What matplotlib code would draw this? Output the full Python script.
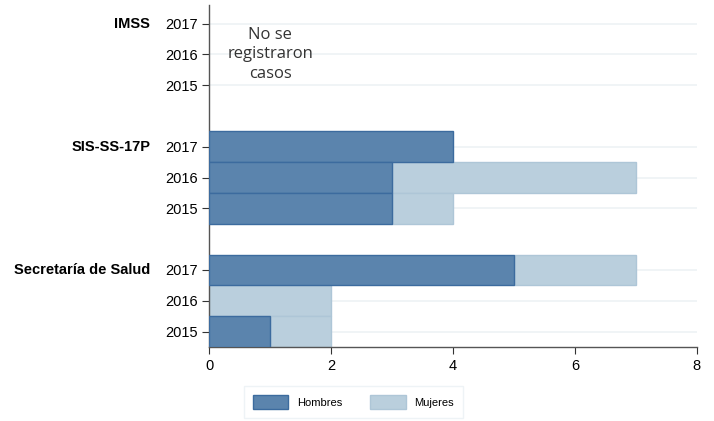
import numpy as np
import matplotlib.pyplot as plt
import matplotlib.transforms as mtransforms
from matplotlib.patches import Patch

plt.rcParams["font.family"] = ["Liberation Sans", "DejaVu Sans"]

instituciones = ["IMSS", "SIS-SS-17P", "Secretaría de Salud"]
anios = ["2017", "2016", "2015"]
hombres = [[0, 0, 0], [4, 3, 3], [5, 0, 1]]
mujeres = [[0, 0, 0], [0, 4, 1], [2, 2, 1]]

C_H, E_H = "#5b84ad", "#3c6b9e"
C_M, E_M = "#bacfdd", "#aec6d7"

fig = plt.figure(figsize=(7.14, 4.21), dpi=100)
ax = fig.add_axes([0.293, 0.176, 0.683, 0.812])
trans = mtransforms.blended_transform_factory(ax.transAxes, ax.transData)

pos, labs = [], []
for g in range(len(instituciones)):
    for k in range(len(anios)):
        y = g * 4 + k
        pos.append(y)
        labs.append(anios[k])
        h, m = hombres[g][k], mujeres[g][k]
        if h > 0:
            ax.barh(y, h, height=1.0, color=C_H, edgecolor=E_H, linewidth=1.0, zorder=3)
        if m > 0:
            ax.barh(y, m, left=h, height=1.0, color=C_M, edgecolor=E_M, linewidth=1.0, zorder=2)
    ax.text(-0.121, g * 4, instituciones[g], transform=trans,
            ha="right", va="center", fontsize=10.5, fontweight="bold")

ax.set_yticks(pos)
ax.set_yticklabels(labs, fontsize=10.5)
ax.set_ylim(10.5, -0.6)
ax.set_xlim(0, 8)
ax.set_xticks([0, 2, 4, 6, 8])
ax.tick_params(axis="x", labelsize=10.5, length=5, color="#333333")
ax.tick_params(axis="y", length=5, color="#333333")
for y in pos:
    ax.axhline(y, color="#edf2f5", linewidth=1.2, zorder=1)
for s in ["top", "right"]:
    ax.spines[s].set_visible(False)
for s in ["left", "bottom"]:
    ax.spines[s].set_color("#555555")
    ax.spines[s].set_linewidth(1.0)

ax.text(1.0, 1.0, "No se\nregistraron\ncasos", ha="center", va="center",
        fontsize=12, family=["Open Sans", "DejaVu Sans"], color="#333333", linespacing=1.3)

handles = [Patch(facecolor=C_H, edgecolor=E_H, label="Hombres"),
           Patch(facecolor=C_M, edgecolor=E_M, label="Mujeres")]
leg = fig.legend(handles=handles, loc="center", bbox_to_anchor=(0.495, 0.045), ncol=2,
                 fontsize=8, frameon=True, fancybox=False, handlelength=3.2, handleheight=1.5,
                 columnspacing=2.5, borderpad=0.8)
leg.get_frame().set_edgecolor("#eaf0f4")

fig.savefig("out.png", dpi=100)
